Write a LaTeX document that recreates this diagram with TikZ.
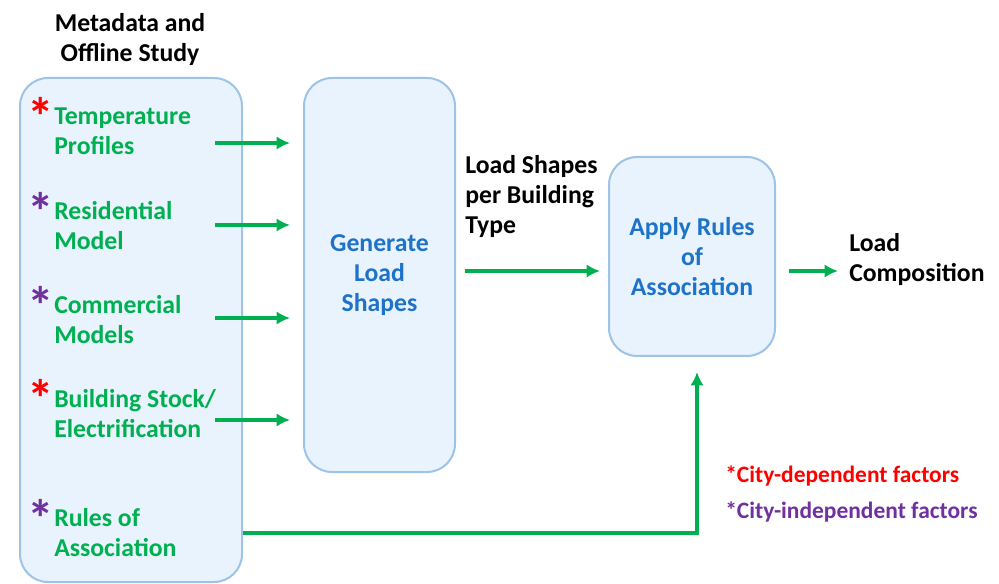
\documentclass[tikz,border=0pt]{standalone}
\usepackage{fontspec}
\setmainfont{Carlito}
\usetikzlibrary{arrows.meta}
\definecolor{boxfill}{HTML}{E9F3FD}
\definecolor{boxline}{HTML}{9DC3E6}
\definecolor{flowgreen}{HTML}{00B050}
\definecolor{txtblue}{HTML}{1E73C8}
\definecolor{starred}{HTML}{FF0000}
\definecolor{starpurple}{HTML}{7030A0}
\begin{document}
\begin{tikzpicture}[x=0.75pt,y=-0.75pt,>={Latex[length=10pt,width=10pt]},
	txt/.style={font=\bfseries\fontsize{19.3}{22.5}\selectfont,inner sep=0pt},
	item/.style={txt,text=flowgreen,align=left,anchor=west},
	star/.style={font=\bfseries\fontsize{40}{40}\selectfont,inner sep=0pt},
	note/.style={txt,font=\bfseries\fontsize{17.6}{20}\selectfont,anchor=west},
	panel/.style={draw=boxline,fill=boxfill,line width=1.5pt,rounded corners=21pt},
	flow/.style={->,draw=flowgreen,line width=2.6pt}]
	\useasboundingbox (0,0) rectangle (999,584);
	% boxes
	\node[panel,minimum width=166.5pt,minimum height=378pt] (inputs) at (131,330) {};
	\node[panel,minimum width=113.25pt,minimum height=295.5pt] (gen) at (379.5,275) {};
	\node[panel,minimum width=124.5pt,minimum height=149.25pt] (apply) at (692,256.5) {};
	\node[txt,align=center] (meta) at (130,39.5) {Metadata and\\Offline Study};
	\node[txt,align=center,text=txtblue] (genlbl) at (gen) {Generate\\Load\\Shapes};
	\node[txt,align=center,text=txtblue] (applylbl) at (apply) {Apply Rules\\of\\Association};
	% inputs
	\node[item] (temp) at (54,131) {Temperature\\Profiles};
	\node[item] (res) at (54,226) {Residential\\Model};
	\node[item] (com) at (54,320) {Commercial\\Models};
	\node[item] (stock) at (54,413.5) {Building Stock/\\Electrification};
	\node[item] (rules) at (54,533) {Rules of\\Association};
	\node[star,text=starred] at (41,116) {*};
	\node[star,text=starpurple] at (41,211) {*};
	\node[star,text=starpurple] at (41,305) {*};
	\node[star,text=starred] at (41,398.5) {*};
	\node[star,text=starpurple] at (41,518) {*};
	% outputs
	\node[txt,align=left,anchor=west] (shapes) at (465,196) {Load Shapes\\per Building\\Type};
	\node[txt,align=left,anchor=west] (comp) at (849,259.5) {Load\\Composition};
	\node[note,text=starred] (dep) at (725,476) {*City-dependent factors};
	\node[note,text=starpurple] (indep) at (725,512) {*City-independent factors};

	\coordinate (a1) at (215,143);
	\coordinate (a2) at (215,225);
	\coordinate (a3) at (215,318);
	\coordinate (a4) at (215,420);
	\coordinate (mid) at (465,271);
	\coordinate (up) at (697,372);
	\foreach \c in {a1,a2,a3,a4}
		\draw[flow,shorten >=9.75pt] (\c) -- (\c -| gen.west);
	\draw[flow,shorten >=6pt] (mid) -- (mid -| apply.west);
	\draw[flow,shorten <=9.75pt,shorten >=8.25pt] (apply.east |- mid) -- (comp.west |- mid);
	\draw[flow] (rules -| inputs.east) -| (up);
\end{tikzpicture}
\end{document}
